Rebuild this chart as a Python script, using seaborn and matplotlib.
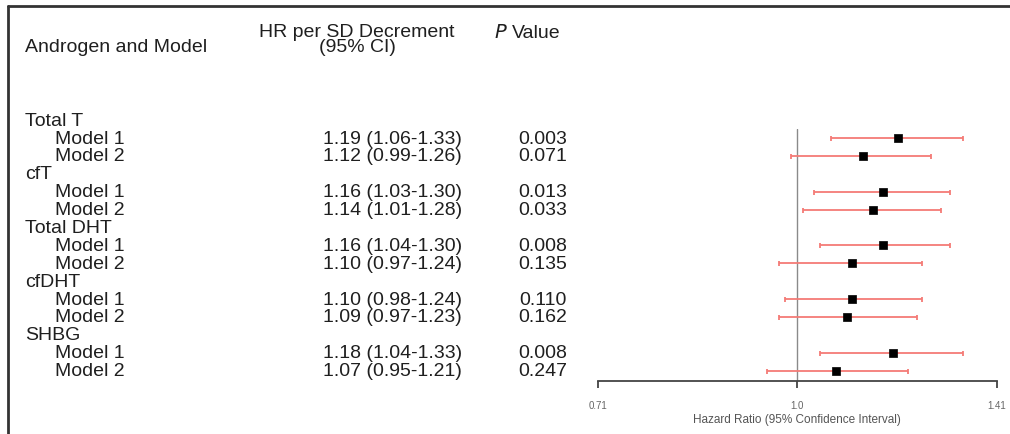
import matplotlib
matplotlib.use("Agg")
import matplotlib.pyplot as plt
import matplotlib.transforms as mtransforms
from matplotlib.lines import Line2D
from matplotlib.ticker import FixedLocator, NullLocator
import numpy as np
import pandas as pd
import seaborn as sns

# ---- data ----
groups = ["Total T", "cfT", "Total DHT", "cfDHT", "SHBG"]
models = ["Model 1", "Model 2"]
hr = [1.19, 1.12, 1.16, 1.14, 1.16, 1.10, 1.10, 1.09, 1.18, 1.07]
ci_low = [1.06, 0.99, 1.03, 1.01, 1.04, 0.97, 0.98, 0.97, 1.04, 0.95]
ci_high = [1.33, 1.26, 1.30, 1.28, 1.30, 1.24, 1.24, 1.23, 1.33, 1.21]
p_values = ["0.003", "0.071", "0.013", "0.033", "0.008",
            "0.135", "0.110", "0.162", "0.008", "0.247"]
x_ticks = [0.71, 1.0, 1.41]
x_ticklabels = ["0.71", "1.0", "1.41"]

# ---- style ----
sns.set_style("white")
plt.rcParams["font.family"] = ["Liberation Sans", "DejaVu Sans"]

TXT = "#1f1f1f"
CI_COLOR = "#f47b76"
FS = 14

# rows: a group header followed by its two models
rows = []
for gi, g in enumerate(groups):
    rows.append(("group", g, None))
    for mi, m in enumerate(models):
        rows.append(("model", m, gi * len(models) + mi))

df = pd.DataFrame({
    "row": [i for i, r in enumerate(rows) if r[0] == "model"],
    "hr": hr,
    "lo": ci_low,
    "hi": ci_high,
})

fig = plt.figure(figsize=(10.1, 4.35), dpi=100)
ax = fig.add_axes([0.592, 0.122, 0.395, 0.579])

# confidence intervals
ax.errorbar(df["hr"], df["row"],
            xerr=[df["hr"] - df["lo"], df["hi"] - df["hr"]],
            fmt="none", ecolor=CI_COLOR, elinewidth=1.3,
            capsize=1.8, capthick=1.3, zorder=2)
# point estimates
sns.scatterplot(data=df, x="hr", y="row", marker="s", s=30,
                color="black", edgecolor="black", linewidth=0.5,
                ax=ax, zorder=3, legend=False)

ax.axvline(1.0, color="#8a8a8a", linewidth=1.0, zorder=1)

ax.set_xscale("log")
ax.set_xlim(0.71, 1.41)
ax.set_ylim(14.58, 0.5)
ax.xaxis.set_major_locator(FixedLocator(x_ticks))
ax.xaxis.set_minor_locator(NullLocator())
ax.set_xticklabels(x_ticklabels)
ax.tick_params(axis="x", which="major", length=5, width=1.3, color="#444444",
               labelsize=7, labelcolor="#666666", pad=9, bottom=True)
ax.set_yticks([])
ax.set_ylabel("")
ax.set_xlabel("Hazard Ratio (95% Confidence Interval)", fontsize=8.5,
              color="#555555", labelpad=2)
for side in ["left", "right", "top"]:
    ax.spines[side].set_visible(False)
ax.spines["bottom"].set_color("#444444")
ax.spines["bottom"].set_linewidth(1.3)
ax.patch.set_alpha(0)

# ---- text table (figure x, data y) ----
trans = mtransforms.blended_transform_factory(fig.transFigure, ax.transData)

def fx(px):
    return px / 1010.0

for i, (kind, label, k) in enumerate(rows):
    if kind == "group":
        fig.text(fx(25), i, label, transform=trans, fontsize=FS, color=TXT,
                 ha="left", va="center")
    else:
        fig.text(fx(55), i, label, transform=trans, fontsize=FS, color=TXT,
                 ha="left", va="center")
        fig.text(fx(462), i, f"{hr[k]:.2f} ({ci_low[k]:.2f}-{ci_high[k]:.2f})",
                 transform=trans, fontsize=FS, color=TXT, ha="right", va="center")
        fig.text(fx(567), i, p_values[k], transform=trans, fontsize=FS,
                 color=TXT, ha="right", va="center")

# column headers
def fy(py):
    return 1 - py / 435.0

fig.text(fx(25), fy(48), "Androgen and Model", fontsize=FS, color=TXT,
         ha="left", va="center")
fig.text(fx(357), fy(40), "HR per SD Decrement\n(95% CI)", fontsize=FS,
         color=TXT, ha="center", va="center", multialignment="center",
         linespacing=0.85)
fig.text(fx(494), fy(33), r"$\it{P}$", fontsize=FS, color=TXT,
         ha="left", va="center")
fig.text(fx(512), fy(33), "Value", fontsize=FS, color=TXT,
         ha="left", va="center")

# frame (left and top edges, the rest is cropped in the reference)
fig.add_artist(Line2D([fx(8), fx(8)], [0, fy(7)], color="#333333", linewidth=2))
fig.add_artist(Line2D([fx(8), 1], [fy(7), fy(7)], color="#333333", linewidth=2))

fig.savefig("out.png", dpi=100)
